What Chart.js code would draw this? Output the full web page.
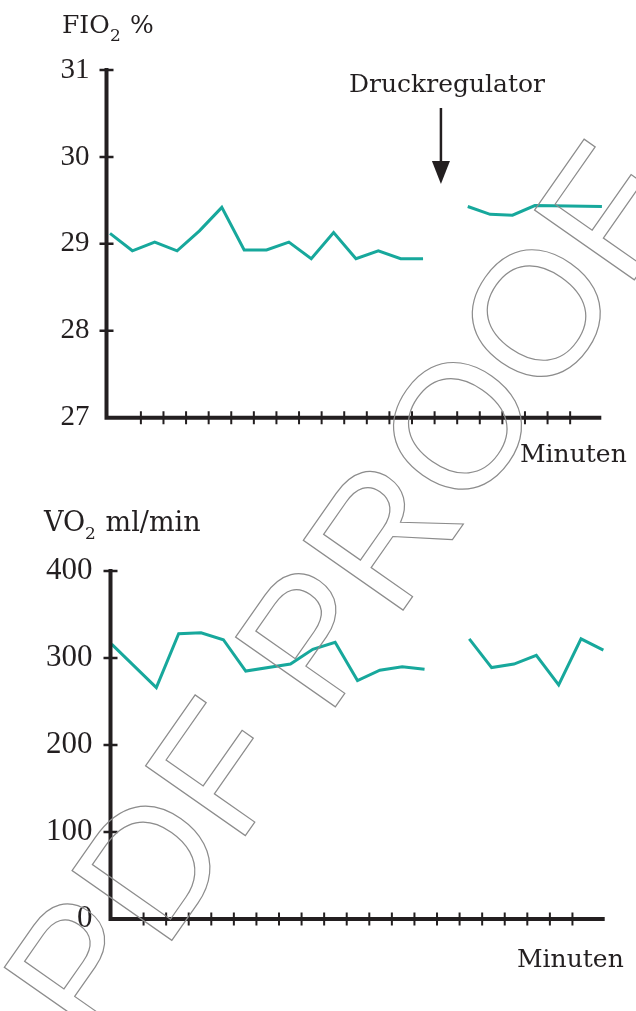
<!DOCTYPE html>
<html>
<head>
<meta charset="utf-8">
<title>FIO2 und VO2 – Druckregulator</title>
<script src="https://cdn.jsdelivr.net/npm/chart.js@4.4.1/dist/chart.umd.min.js"></script>
<style>
  html, body { margin: 0; padding: 0; background: #fff; }
  body { width: 636px; height: 1011px; position: relative; overflow: hidden; }
  .box { position: absolute; left: 0; width: 636px; }
  #topBox { top: 0; height: 480px; }
  #botBox { top: 480px; height: 531px; }
  #stamp { position: absolute; left: 0; top: 0; width: 636px; height: 1011px; pointer-events: none; }
</style>
</head>
<body>
<div class="box" id="topBox"><canvas id="fio2Chart"></canvas></div>
<div class="box" id="botBox"><canvas id="vo2Chart"></canvas></div>
<canvas id="stamp" width="636" height="1011"></canvas>
<script>
// ---- data -------------------------------------------------------------
// FIO2 in %, one reading per minute; minute 15 has no reading (regulator fitted)
const fio2Minutes = [0, 1, 2, 3, 4, 5, 6, 7, 8, 9, 10, 11, 12, 13, 14, 15, 16, 17, 18, 19, 22];
const fio2Values  = [29.12, 28.92, 29.02, 28.92, 29.15, 29.42, 28.93, 28.93, 29.02, 28.83,
                     29.13, 28.83, 28.92, 28.83, 28.83, null, 29.43, 29.34, 29.33, 29.44, 29.43];

// VO2 in ml/min
const vo2Minutes = [0, 2, 3, 4, 5, 6, 8, 9, 10, 11, 12, 13, 14, 15, 16, 17, 18, 19, 20, 21, 22];
const vo2Values  = [316, 266, 328, 329, 321, 285, 293, 310, 318, 274, 286, 290, 287, null,
                    322, 289, 293, 303, 269, 322, 309];

// y-axis tick labels
const fio2Ticks = [27, 28, 29, 30, 31];
const vo2Ticks  = [0, 100, 200, 300, 400];

// text
const fio2Title = ['FIO', '2', ' %'];
const vo2Title  = ['VO', '2', ' ml/min'];
const xTitle    = 'Minuten';
const eventText = 'Druckregulator';

// ---- styles -----------------------------------------------------------
const ink = '#231f20';
const teal = '#17a89c';
const wordFont = '"DejaVu Serif", serif';
const numFont = '"Liberation Serif", serif';

// axes drawn as a thick L with ticks crossing the lines
const framePlugin = {
  id: 'frame',
  afterDatasetsDraw(chart) {
    const { ctx, chartArea: a } = chart;
    const ys = chart.scales.y, xt = chart.scales.xt;
    ctx.save();
    ctx.strokeStyle = ink;
    ctx.lineWidth = 4;
    ctx.lineCap = 'square';
    ctx.lineJoin = 'miter';
    ctx.beginPath();
    ctx.moveTo(a.left, a.top);
    ctx.lineTo(a.left, a.bottom);
    ctx.lineTo(a.right, a.bottom);
    ctx.stroke();
    ctx.lineCap = 'butt';
    ctx.lineWidth = 2.5;
    ctx.beginPath();
    ys.ticks.forEach(t => {
      const py = ys.getPixelForValue(t.value);
      if (Math.abs(py - a.bottom) < 1) return;
      ctx.moveTo(a.left - 7, py);
      ctx.lineTo(a.left + 7, py);
    });
    ctx.stroke();
    ctx.lineWidth = 2;
    ctx.beginPath();
    xt.ticks.forEach(t => {
      const px = xt.getPixelForValue(t.value);
      ctx.moveTo(px, a.bottom - 6.5);
      ctx.lineTo(px, a.bottom + 6.5);
    });
    ctx.stroke();
    ctx.restore();
  }
};

// titles, axis name and the event arrow
const notesPlugin = {
  id: 'notes',
  afterDraw(chart, args, o) {
    const ctx = chart.ctx;
    ctx.save();
    ctx.fillStyle = ink;
    ctx.textBaseline = 'alphabetic';
    ctx.textAlign = 'left';
    // title with subscript
    const t = o.title;
    ctx.font = t.size + 'px ' + wordFont;
    ctx.fillText(t.parts[0], t.x, t.y);
    ctx.font = '17px ' + wordFont;
    ctx.fillText(t.parts[1], t.subX, t.y + 8);
    ctx.font = t.size + 'px ' + wordFont;
    ctx.fillText(t.parts[2], t.restX, t.y);
    // axis name
    ctx.font = '25px ' + wordFont;
    ctx.fillText(xTitle, o.axisName.x, o.axisName.y);
    if (o.event) {
      ctx.fillText(eventText, o.event.x, o.event.y);
      const ax = chart.scales.x.getPixelForValue(o.event.minute);
      ctx.strokeStyle = ink;
      ctx.lineWidth = 2.5;
      ctx.beginPath();
      ctx.moveTo(ax, o.event.from);
      ctx.lineTo(ax, o.event.to - 20);
      ctx.stroke();
      ctx.beginPath();
      ctx.moveTo(ax - 9, o.event.to - 23);
      ctx.lineTo(ax + 9, o.event.to - 23);
      ctx.lineTo(ax, o.event.to);
      ctx.closePath();
      ctx.fill();
    }
    ctx.restore();
  }
};

function points(mins, vals) {
  return mins.map((m, i) => ({ x: m, y: vals[i] }));
}

function makeChart(id, cfg) {
  return new Chart(document.getElementById(id), {
    type: 'line',
    data: {
      datasets: [{
        data: points(cfg.minutes, cfg.values),
        borderColor: teal,
        borderWidth: 3,
        pointRadius: 0,
        tension: 0,
        spanGaps: false,
        clip: false,
        xAxisID: 'x',
        yAxisID: 'y'
      }]
    },
    options: {
      responsive: true,
      maintainAspectRatio: false,
      animation: false,
      events: [],
      layout: { padding: { top: cfg.top, right: cfg.right, left: 0, bottom: 0 } },
      plugins: {
        legend: { display: false },
        tooltip: { enabled: false },
        notes: cfg.notes
      },
      scales: {
        x: { type: 'linear', display: false, min: cfg.xMin, max: cfg.xMax },
        xt: {
          type: 'linear', axis: 'x', position: 'bottom',
          min: cfg.tMin, max: cfg.tMax,
          ticks: { display: false, stepSize: 1 },
          grid: { display: false, drawTicks: false },
          border: { display: false },
          afterBuildTicks: s => { s.ticks = s.ticks.filter(t => Number.isInteger(t.value)); },
          afterFit: s => { s.height = cfg.axisBand; }
        },
        y: {
          type: 'linear', position: 'left',
          min: cfg.yTicks[0], max: cfg.yTicks[cfg.yTicks.length - 1],
          afterBuildTicks: s => { s.ticks = cfg.yTicks.map(v => ({ value: v })); },
          ticks: { font: { family: numFont, size: cfg.numSize }, color: ink, padding: cfg.labelGap },
          grid: { display: false, drawTicks: false },
          border: { display: false },
          afterFit: s => { s.width = cfg.left; }
        }
      }
    },
    plugins: [framePlugin, notesPlugin]
  });
}

makeChart('fio2Chart', {
  minutes: fio2Minutes, values: fio2Values, yTicks: fio2Ticks,
  top: 70, right: 36.7, left: 106.5, axisBand: 62.3,
  xMin: -0.157, xMax: 21.883, tMin: 0.478, tMax: 22.29,
  numSize: 29, labelGap: 17,
  notes: {
    title: { parts: fio2Title, x: 62, subX: 110, restX: 122, y: 33, size: 25 },
    axisName: { x: 520, y: 462 },
    event: { x: 349, y: 92, minute: 14.8, from: 108, to: 184 }
  }
});

makeChart('vo2Chart', {
  minutes: vo2Minutes, values: vo2Values, yTicks: vo2Ticks,
  top: 91, right: 33.3, left: 110.5, axisBand: 92,
  xMin: -0.05, xMax: 21.97, tMin: 0.535, tMax: 22.34,
  numSize: 31, labelGap: 18,
  notes: {
    title: { parts: vo2Title, x: 44, subX: 85, restX: 97, y: 51, size: 27 },
    axisName: { x: 517, y: 487 }
  }
});

// proof stamp across the sheet
(function () {
  const c = document.getElementById('stamp').getContext('2d');
  c.save();
  c.translate(352, 598);
  c.rotate(-55 * Math.PI / 180);
  c.font = '177px "Liberation Sans", sans-serif';
  c.textAlign = 'center';
  c.textBaseline = 'middle';
  c.strokeStyle = '#8c8c8c';
  c.lineWidth = 1.2;
  c.strokeText('PDF PROOF', 0, 0);
  c.restore();
})();
</script>
</body>
</html>
